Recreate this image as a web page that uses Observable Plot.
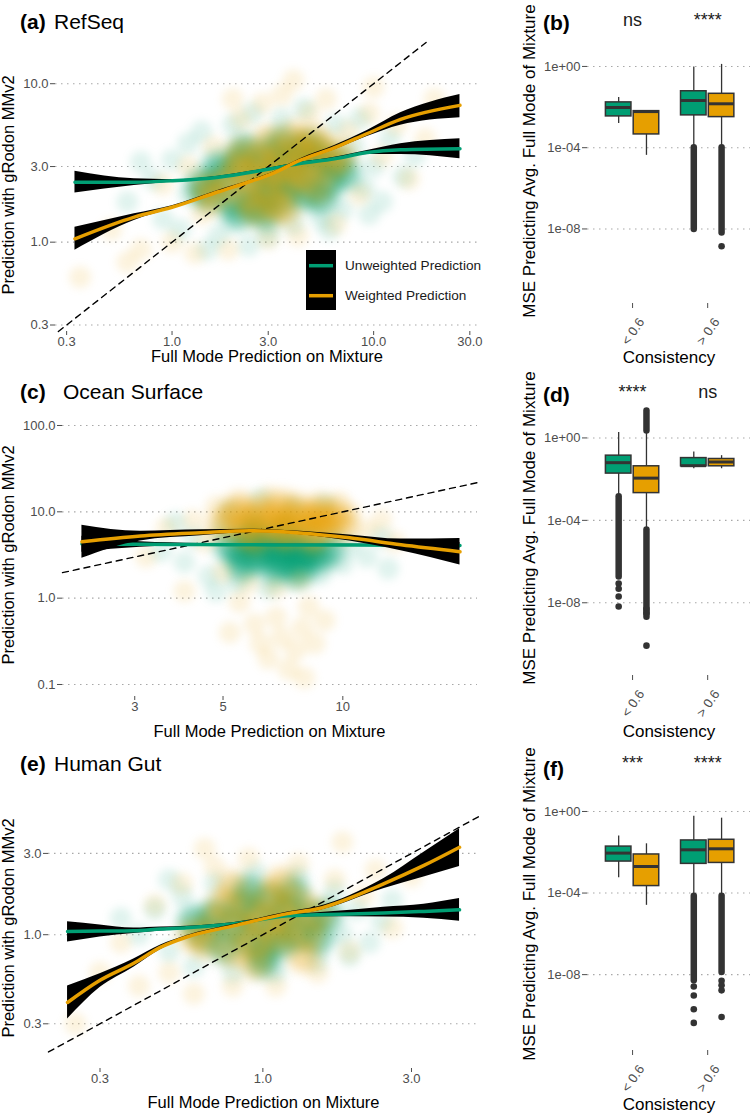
<!DOCTYPE html>
<html><head><meta charset="utf-8">
<script src="https://cdn.jsdelivr.net/npm/d3@7"></script>
<script src="https://cdn.jsdelivr.net/npm/@observablehq/plot@0.6"></script>
<style>
body{margin:0;background:#fff;}
#root{position:relative;width:750px;height:1113px;overflow:hidden;background:#fff;font-family:"Liberation Sans",Arial,sans-serif;}
#root > svg{position:absolute;}
</style></head><body><div id="root"></div>
<script>
const GREEN = "#009E73", ORANGE = "#E69F00";

// ---------- (a) RefSeq ----------
const aX      = [0.33, 0.65, 1.0, 1.7, 2.5, 3.1, 4.3, 6.4, 9.3, 13.6, 26.8];
const aUnwY   = [2.39, 2.39, 2.44, 2.57, 2.77, 2.91, 3.13, 3.36, 3.68, 3.83, 3.89];
const aUnwLo  = [2.04, 2.28, 2.40, 2.53, 2.73, 2.87, 3.08, 3.29, 3.57, 3.58, 3.36];
const aUnwHi  = [2.80, 2.51, 2.48, 2.61, 2.81, 2.95, 3.18, 3.43, 3.79, 4.18, 4.50];
const aWtY    = [1.05, 1.44, 1.66, 2.08, 2.44, 2.69, 3.28, 3.95, 4.85, 5.95, 7.30];
const aWtLo   = [0.89, 1.37, 1.63, 2.03, 2.41, 2.65, 3.21, 3.83, 4.64, 5.47, 6.10];
const aWtHi   = [1.24, 1.51, 1.70, 2.13, 2.48, 2.73, 3.35, 4.07, 5.07, 6.55, 8.56];
const aGreenCore = [[1.5,2.0],[1.8,2.6],[2.0,1.8],[2.2,3.2],[2.5,2.3],[2.6,1.7],[2.8,2.9],[3.0,2.0],[3.1,3.6],[3.3,2.5],[3.6,1.9],[3.8,3.1],[4.0,2.4],[4.3,3.6],[4.6,2.0],[5.0,2.9],[5.4,3.4],[6.0,2.4],[1.4,2.3],[2.3,3.8],[3.5,4.2],[4.8,4.0],[6.5,3.2],[7.2,2.7],[2.1,1.5],[2.9,1.5],[1.7,3.0],[5.5,1.9]];
const aGreenHalo = [[0.6,1.8],[0.8,2.5],[0.9,1.4],[1.0,3.3],[1.1,1.2],[1.2,4.2],[1.4,5.0],[1.7,1.1],[2.0,5.5],[2.5,6.5],[3.0,1.1],[3.5,6.0],[4.0,1.3],[4.5,7.0],[5.5,1.4],[6.5,5.5],[7.0,1.6],[8.0,4.0],[9.0,2.2],[10,3.0],[11,1.8],[12,4.5],[14,2.6],[16,3.5],[0.7,3.2],[1.5,0.9],[2.4,0.95],[8.5,6.0],[1.2,2.0],[6.0,1.2],[9.5,1.5]];
const aOrangeCore = [[1.6,1.9],[1.9,2.4],[2.1,2.9],[2.3,1.9],[2.5,2.6],[2.7,3.3],[2.9,2.2],[3.1,2.8],[3.2,1.7],[3.4,3.4],[3.7,2.3],[3.9,2.9],[4.2,3.9],[4.5,2.6],[4.8,3.3],[5.2,2.2],[5.6,3.9],[6.2,3.0],[2.2,3.6],[3.0,4.3],[4.0,4.6],[1.5,2.2],[2.6,1.6],[5.0,4.4],[6.8,3.5],[3.6,1.6]];
const aOrangeHalo = [[0.5,1.2],[0.7,0.9],[0.9,2.3],[1.0,1.0],[1.2,3.0],[1.3,0.85],[1.6,4.0],[1.9,0.9],[2.2,6.0],[2.8,7.5],[3.5,8.5],[3.0,1.05],[4.2,1.1],[4.8,6.5],[5.8,8.0],[6.5,1.3],[7.5,5.0],[8.5,2.0],[9.5,6.5],[11,3.5],[13,5.5],[15,2.5],[18,4.5],[0.6,0.75],[0.35,0.6],[20,8],[10,9.5],[2.0,8.0],[4.0,10.5],[1.4,1.5]];
const aXTicks = [0.3, 1, 3, 10, 30];
const aYTicks = [0.3, 1, 3, 10];

// ---------- (c) Ocean Surface ----------
const cX      = [2.21, 3.1, 4.39, 5.86, 7.82, 10.4, 14.0, 19.7];
const cUnwY   = [4.25, 4.20, 4.18, 4.15, 4.13, 4.12, 4.10, 4.08];
const cUnwLo  = [3.40, 3.90, 4.05, 4.08, 4.06, 4.03, 3.95, 3.80];
const cUnwHi  = [5.20, 4.50, 4.30, 4.22, 4.20, 4.21, 4.25, 4.40];
const cWtY    = [4.50, 5.24, 5.71, 6.03, 5.70, 5.00, 4.15, 3.45];
const cWtLo   = [2.90, 4.60, 5.27, 5.75, 5.44, 4.60, 3.54, 2.42];
const cWtHi   = [7.00, 5.96, 6.19, 6.30, 5.96, 5.40, 4.83, 4.92];
const cGreenCore = [[5.2,4.0],[5.5,3.2],[5.8,4.8],[6.0,2.8],[6.2,3.8],[6.5,4.5],[6.7,3.0],[7.0,3.6],[7.2,2.5],[7.5,4.2],[7.8,3.2],[8.0,2.7],[8.3,3.8],[8.7,3.0],[6.0,5.5],[7.2,5.2],[5.6,2.4],[6.8,2.2],[7.8,2.1],[9.2,3.5]];
const cGreenHalo = [[3.5,3.5],[4.0,2.6],[4.2,5.0],[4.6,1.8],[5.0,6.5],[5.4,1.5],[6.0,8.5],[6.5,1.3],[7.0,7.0],[7.5,1.6],[8.2,6.0],[8.8,1.9],[9.5,5.0],[10,2.5],[10.5,4.0],[11.5,3.0],[12.5,5.0],[6.2,14],[7.5,11],[5.2,10],[9.0,12],[4.8,1.2],[3.8,7.5],[13,2.2]];
const cOrangeCore = [[5.0,7.0],[5.3,9.0],[5.6,6.0],[5.9,8.2],[6.2,10.0],[6.4,7.2],[6.7,9.0],[7.0,6.2],[7.3,8.0],[7.6,10.5],[7.9,7.0],[8.2,9.0],[8.5,6.5],[8.8,8.2],[9.2,7.2],[9.6,9.0],[10.0,6.8],[6.0,5.0],[7.2,5.5],[8.4,5.0],[5.5,11],[7.0,11.5],[8.8,10.5]];
const cOrangeHalo = [[3.6,6.5],[4.2,8.0],[4.5,4.5],[4.8,11.5],[5.0,2.0],[5.5,0.9],[6.0,0.5],[6.2,0.3],[6.5,0.2],[6.8,0.6],[7.0,0.35],[7.3,0.15],[7.6,0.25],[7.9,0.45],[8.2,0.8],[8.5,0.3],[9.0,0.55],[6.8,1.3],[7.8,1.6],[5.8,1.5],[10.5,9.5],[11.5,6.0],[12.5,8.0],[9.8,13],[4.0,1.2],[6.5,15],[3.2,3.0],[13.5,4.5],[8.0,0.12],[5.2,0.4]];
const cXTicks = [3, 5, 10];
const cYTicks = [0.1, 1, 10, 100];

// ---------- (e) Human Gut ----------
const eX      = [0.236, 0.30, 0.385, 0.47, 0.57, 0.81, 1.2, 1.5, 2.44, 3.29, 4.28];
const eUnwY   = [1.045, 1.05, 1.055, 1.08, 1.10, 1.16, 1.29, 1.31, 1.34, 1.37, 1.40];
const eUnwLo  = [0.905, 0.97, 1.015, 1.05, 1.08, 1.14, 1.265, 1.275, 1.27, 1.25, 1.20];
const eUnwHi  = [1.19, 1.14, 1.095, 1.11, 1.12, 1.18, 1.315, 1.345, 1.45, 1.51, 1.63];
const eWtY    = [0.40, 0.54, 0.68, 0.845, 0.97, 1.13, 1.33, 1.42, 1.99, 2.55, 3.26];
const eWtLo   = [0.32, 0.49, 0.645, 0.82, 0.95, 1.11, 1.30, 1.38, 1.86, 2.18, 2.51];
const eWtHi   = [0.50, 0.59, 0.72, 0.87, 0.99, 1.15, 1.36, 1.46, 2.13, 3.05, 4.19];
const eGreenCore = [[0.65,1.0],[0.7,1.3],[0.75,0.85],[0.8,1.15],[0.85,1.5],[0.9,0.95],[0.95,1.25],[1.0,0.8],[1.05,1.6],[1.1,1.1],[1.15,0.9],[1.2,1.4],[1.3,1.0],[1.4,1.25],[1.5,0.95],[0.6,1.2],[0.9,1.8],[1.25,1.75],[1.0,0.7],[1.6,1.3]];
const eGreenHalo = [[0.4,1.0],[0.45,1.4],[0.5,0.8],[0.55,1.7],[0.6,0.65],[0.7,2.0],[0.8,0.6],[0.95,2.3],[1.1,0.6],[1.3,2.2],[1.5,0.7],[1.7,1.8],[1.8,1.0],[2.0,1.4],[2.2,0.9],[2.4,1.2],[0.35,1.25],[1.9,0.75],[0.5,2.1],[2.6,1.6]];
const eOrangeCore = [[0.65,0.9],[0.7,1.2],[0.75,1.5],[0.8,0.8],[0.85,1.1],[0.9,1.4],[0.95,0.9],[1.0,1.2],[1.05,1.7],[1.1,0.95],[1.15,1.35],[1.2,1.1],[1.3,1.55],[1.4,1.0],[1.5,1.3],[0.6,1.0],[0.8,1.9],[1.15,2.0],[0.95,0.68],[1.35,0.75]];
const eOrangeHalo = [[0.3,0.6],[0.35,0.9],[0.4,0.5],[0.45,1.5],[0.5,0.6],[0.55,2.0],[0.6,0.45],[0.7,2.5],[0.8,0.5],[0.9,2.8],[1.1,0.5],[1.3,2.6],[1.5,0.6],[1.7,2.1],[1.9,0.8],[2.1,1.7],[2.3,2.4],[2.6,1.1],[3.0,2.2],[0.25,0.3],[1.8,3.5],[0.65,3.2]];
const eXTicks = [0.3, 1, 3];
const eYTicks = [0.3, 1, 3];

// ---------- box plots: order [<0.6 Unw, <0.6 Wt, >0.6 Unw, >0.6 Wt] ----------
const consLabels = ["< 0.6", "> 0.6"];
const boxYTicks = [1, 1e-4, 1e-8];

const bHi  = [2.95e-2, 6.3e-3, 0.93, 1.26];
const bQ3  = [1.7e-2, 6.3e-3, 6.0e-2, 4.5e-2];
const bMed = [9.5e-3, 6.0e-3, 2.1e-2, 1.45e-2];
const bQ1  = [3.47e-3, 4.5e-4, 3.9e-3, 3.2e-3];
const bLo  = [1.55e-3, 4.2e-5, 1.1e-4, 1.1e-4];
const bColBox = [2, 3];
const bColTop = [1.0e-4, 1.0e-4];
const bColBot = [9.3e-9, 6.3e-9];
const bDotBox = [3];
const bDotVal = [1.4e-9];
const bSig = ["ns", "****"];

const dHi  = [1.86, 2.1, 0.21, 0.138];
const dQ3  = [0.138, 0.042, 0.105, 0.095];
const dMed = [0.063, 0.0112, 0.045, 0.068];
const dQ1  = [0.0186, 2.1e-3, 0.042, 0.042];
const dLo  = [1.5e-3, 3.4e-5, 0.032, 0.032];
const dColBox = [0, 1, 1];
const dColTop = [1.4e-3, 20, 3.4e-5];
const dColBot = [1.8e-7, 2.2, 2.0e-9];
const dDotBox = [0, 0, 0, 0, 1, 1, 1];
const dDotVal = [8.5e-8, 4.8e-8, 2.0e-8, 6.6e-9, 5.0e-9, 3.2e-9, 8.3e-11];
const dSig = ["****", "ns"];

const fHi  = [0.062, 0.026, 0.59, 0.47];
const fQ3  = [0.019, 7.8e-3, 0.038, 0.041];
const fMed = [9.1e-3, 2.0e-3, 0.0132, 0.0148];
const fQ1  = [3.5e-3, 2.2e-4, 2.7e-3, 3.0e-3];
const fLo  = [5.6e-4, 2.5e-5, 7e-5, 7e-5];
const fColBox = [2, 3];
const fColTop = [7e-5, 7e-5];
const fColBot = [5.0e-9, 1.26e-8];
const fDotBox = [2, 2, 2, 2, 3, 3, 3, 3];
const fDotVal = [2.6e-9, 9.5e-10, 2.0e-10, 4.3e-11, 5e-9, 3.0e-9, 1.7e-9, 8.3e-11];
const fSig = ["***", "****"];

// ---------- helpers ----------
const root = document.getElementById("root");
const FONT = '"Liberation Sans", Arial, sans-serif';
const fmt1 = d3.format(".1f");
const fmtInt = d3.format("d");
const fmtSci = d => { const e = Math.round(Math.log10(d)); return "1e" + (e < 0 ? "-" : "+") + String(Math.abs(e)).padStart(2, "0"); };
const baseStyle = {background: "transparent", overflow: "visible", fontSize: "13px", fontFamily: FONT, color: "#4D4D4D"};
const gridOpts = {stroke: "#a8a8a8", strokeDasharray: "1.5,4.5", strokeWidth: 1.1};

function place(svg, left, top) {
  svg.style.left = left + "px";
  svg.style.top = top + "px";
  svg.style.position = "absolute";
  root.appendChild(svg);
}

function scatterPanel(p) {
  const rows = (ys, los, his) => p.x.map((v, i) => ({x: v, y: ys[i], lo: los[i], hi: his[i]}));
  const unw = rows(p.unw, p.unwLo, p.unwHi);
  const wt = rows(p.wt, p.wtLo, p.wtHi);
  const a = Math.max(p.xDomain[0], p.yDomain[0]), b = Math.min(p.xDomain[1], p.yDomain[1]);
  const ident = [[a, a], [b, b]];
  const px = d => d[0], py = d => d[1];
  const svg = Plot.plot({
    width: p.width, height: p.height,
    marginLeft: p.mL, marginRight: p.mR, marginTop: p.mT, marginBottom: p.mB,
    style: baseStyle,
    x: {type: "log", domain: p.xDomain, ticks: p.xTicks, tickFormat: p.xFmt, tickSize: 4, tickPadding: 1, label: null},
    y: {type: "log", domain: p.yDomain, ticks: p.yTicks, tickFormat: p.yFmt, tickSize: 5, tickPadding: 2, label: null},
    marks: [
      Plot.ruleY(p.yTicks, gridOpts),
      Plot.dot(p.gHalo, {x: px, y: py, r: 11, fill: GREEN, fillOpacity: 0.12}),
      Plot.dot(p.gCore, {x: px, y: py, r: 16, fill: GREEN, fillOpacity: 0.48}),
      Plot.dot(p.oHalo, {x: px, y: py, r: 11, fill: ORANGE, fillOpacity: 0.13}),
      Plot.dot(p.oCore, {x: px, y: py, r: 16, fill: ORANGE, fillOpacity: 0.36}),
      Plot.line(ident, {x: px, y: py, stroke: "#000", strokeWidth: 1.4, strokeDasharray: "6,5"}),
      Plot.areaY(unw, {x: "x", y1: "lo", y2: "hi", fill: "#000", curve: "monotone-x"}),
      Plot.line(unw, {x: "x", y: "y", stroke: GREEN, strokeWidth: 3.5, curve: "monotone-x"}),
      Plot.areaY(wt, {x: "x", y1: "lo", y2: "hi", fill: "#000", curve: "monotone-x"}),
      Plot.line(wt, {x: "x", y: "y", stroke: ORANGE, strokeWidth: 3.5, curve: "monotone-x"})
    ]
  });
  // soften the scatter cloud like many overlapping translucent points
  svg.querySelectorAll('g[aria-label="dot"]').forEach((g, k) => { g.style.filter = k % 2 ? "blur(6px)" : "blur(4px)"; });
  place(svg, p.left, p.top);
}

function boxPanel(p) {
  const off = 0.185, half = 0.17;
  const pos = i => Math.floor(i / 2) + 1 + (i % 2 ? off : -off);
  const fillOf = i => (i % 2 ? ORANGE : GREEN);
  const rows = p.lo.map((_, i) => ({i, lo: p.lo[i], q1: p.q1[i], med: p.med[i], q3: p.q3[i], hi: p.hi[i]}));
  const cols = p.colBox.map((b, k) => ({i: b, top: p.colTop[k], bot: p.colBot[k]}));
  const dots = p.dotBox.map((b, k) => ({i: b, v: p.dotVal[k]}));
  const svg = Plot.plot({
    width: p.width, height: p.height,
    marginLeft: p.mL, marginRight: p.mR, marginTop: p.mT, marginBottom: p.mB,
    style: baseStyle,
    x: {type: "linear", domain: [0.4, 2.57], ticks: [1, 2], tickFormat: () => "", tickSize: 5, label: null},
    y: {type: "log", domain: p.yDomain, ticks: boxYTicks, tickFormat: fmtSci, tickSize: 5, tickPadding: 2, label: null},
    color: {type: "identity"},
    marks: [
      Plot.ruleY(boxYTicks, gridOpts),
      Plot.ruleX(cols, {x: d => pos(d.i), y1: "top", y2: "bot", stroke: "#333", strokeWidth: 6.5, strokeLinecap: "round"}),
      Plot.dot(dots, {x: d => pos(d.i), y: "v", r: 3.3, fill: "#333"}),
      Plot.ruleX(rows, {x: d => pos(d.i), y1: "lo", y2: "hi", stroke: "#333", strokeWidth: 1.3}),
      Plot.rect(rows, {x1: d => pos(d.i) - half, x2: d => pos(d.i) + half, y1: "q1", y2: "q3", fill: d => fillOf(d.i), stroke: "#333", strokeWidth: 1.5}),
      Plot.ruleY(rows, {y: "med", x1: d => pos(d.i) - half, x2: d => pos(d.i) + half, stroke: "#333", strokeWidth: 3}),
      Plot.text(p.sig, {x: (d, i) => i + 1, y: () => p.sigY, text: d => d, fontSize: 18, fill: "#1a1a1a"}),
      Plot.text(consLabels, {x: (d, i) => i + 1, frameAnchor: "bottom", text: d => d, rotate: -55,
        textAnchor: "end", lineAnchor: "middle", dx: 9, dy: 16, fontSize: 13, fill: "#4D4D4D"})
    ]
  });
  place(svg, p.left, p.top);
}

// ---------- panels ----------
scatterPanel({left: 0, top: 0, width: 500, height: 352, mL: 55, mR: 21, mT: 42, mB: 21,
  xDomain: [0.2642, 33.5], yDomain: [0.273, 18.2], xTicks: aXTicks, yTicks: aYTicks, xFmt: fmt1, yFmt: fmt1,
  x: aX, unw: aUnwY, unwLo: aUnwLo, unwHi: aUnwHi, wt: aWtY, wtLo: aWtLo, wtHi: aWtHi,
  gHalo: aGreenHalo, gCore: aGreenCore, oHalo: aOrangeHalo, oCore: aOrangeCore});

scatterPanel({left: 0, top: 380, width: 500, height: 340, mL: 62, mR: 23, mT: 38, mB: 24,
  xDomain: [1.975, 21.8], yDomain: [0.0726, 120.5], xTicks: cXTicks, yTicks: cYTicks, xFmt: fmtInt, yFmt: fmt1,
  x: cX, unw: cUnwY, unwLo: cUnwLo, unwHi: cUnwHi, wt: cWtY, wtLo: cWtLo, wtHi: cWtHi,
  gHalo: cGreenHalo, gCore: cGreenCore, oHalo: cOrangeHalo, oCore: cOrangeCore});

scatterPanel({left: 0, top: 780, width: 500, height: 310, mL: 48, mR: 21, mT: 10, mB: 22,
  xDomain: [0.205, 4.96], yDomain: [0.164, 7.02], xTicks: eXTicks, yTicks: eYTicks, xFmt: fmt1, yFmt: fmt1,
  x: eX, unw: eUnwY, unwLo: eUnwLo, unwHi: eUnwHi, wt: eWtY, wtLo: eWtLo, wtHi: eWtHi,
  gHalo: eGreenHalo, gCore: eGreenCore, oHalo: eOrangeHalo, oCore: eOrangeCore});

boxPanel({left: 500, top: 0, width: 250, height: 345, mL: 87, mR: 0, mT: 5, mB: 42,
  yDomain: [Math.pow(10, -11.67), Math.pow(10, 3.0)], sigY: Math.pow(10, 2.256),
  lo: bLo, q1: bQ1, med: bMed, q3: bQ3, hi: bHi, colBox: bColBox, colTop: bColTop, colBot: bColBot,
  dotBox: bDotBox, dotVal: bDotVal, sig: bSig});

boxPanel({left: 500, top: 370, width: 250, height: 345, mL: 87, mR: 0, mT: 5, mB: 40,
  yDomain: [Math.pow(10, -11.53), Math.pow(10, 3.03)], sigY: Math.pow(10, 2.22),
  lo: dLo, q1: dQ1, med: dMed, q3: dQ3, hi: dHi, colBox: dColBox, colTop: dColTop, colBot: dColBot,
  dotBox: dDotBox, dotVal: dDotVal, sig: dSig});

boxPanel({left: 500, top: 745, width: 250, height: 345, mL: 87, mR: 0, mT: 5, mB: 40,
  yDomain: [Math.pow(10, -11.72), Math.pow(10, 2.99)], sigY: Math.pow(10, 2.35),
  lo: fLo, q1: fQ1, med: fMed, q3: fQ3, hi: fHi, colBox: fColBox, colTop: fColTop, colBot: fColBot,
  dotBox: fDotBox, dotVal: fDotVal, sig: fSig});

// ---------- titles, axis titles, legend ----------
const yTitleL = "Prediction with gRodon MMv2";
const xTitleL = "Full Mode Prediction on Mixture";
const yTitleR = "MSE Predicting Avg. Full Mode of Mixture";
const xTitleR = "Consistency";
const ns = "http://www.w3.org/2000/svg";
const ov = document.createElementNS(ns, "svg");
ov.setAttribute("width", 750); ov.setAttribute("height", 1113);
ov.style.left = "0px"; ov.style.top = "0px"; ov.style.position = "absolute";
ov.setAttribute("font-family", FONT);
const T = (x, y, s, o = {}) => `<text x="${x}" y="${y}" font-size="${o.size || 16.5}" ${o.bold ? 'font-weight="bold"' : ""} text-anchor="${o.anchor || "start"}" fill="${o.fill || "#000"}" ${o.tr ? `transform="${o.tr}"` : ""}>${s}</text>`;
const esc = s => s.replace(/&/g, "&amp;").replace(/</g, "&lt;").replace(/>/g, "&gt;");
let h = "";
h += T(20, 29, "(a)", {size: 21, bold: true}) + T(54, 29, "RefSeq", {size: 21});
h += T(20, 399, "(c)", {size: 21, bold: true}) + T(63, 399, "Ocean Surface", {size: 21});
h += T(20, 770.5, "(e)", {size: 21, bold: true}) + T(54, 770.5, "Human Gut", {size: 21});
h += T(543, 30, "(b)", {size: 21, bold: true});
h += T(543, 402, "(d)", {size: 21, bold: true});
h += T(543, 776, "(f)", {size: 21, bold: true});
h += T(267, 362, xTitleL, {anchor: "middle"});
h += T(269.5, 737, xTitleL, {anchor: "middle"});
h += T(263.5, 1108, xTitleL, {anchor: "middle"});
h += T(0, 0, yTitleL, {anchor: "middle", tr: "translate(13.5,185) rotate(-90)"});
h += T(0, 0, yTitleL, {anchor: "middle", tr: "translate(13.5,555) rotate(-90)"});
h += T(0, 0, yTitleL, {anchor: "middle", tr: "translate(13.5,928) rotate(-90)"});
h += T(669, 363.3, xTitleR, {anchor: "middle", size: 17});
h += T(669, 736.7, xTitleR, {anchor: "middle", size: 17});
h += T(669, 1110, xTitleR, {anchor: "middle", size: 17});
h += T(0, 0, yTitleR, {anchor: "middle", size: 17, tr: "translate(534.5,161) rotate(-90)"});
h += T(0, 0, yTitleR, {anchor: "middle", size: 17, tr: "translate(534.5,528) rotate(-90)"});
h += T(0, 0, yTitleR, {anchor: "middle", size: 17, tr: "translate(534.5,904) rotate(-90)"});
const legendLabels = ["Unweighted Prediction", "Weighted Prediction"];
const legendColors = [GREEN, ORANGE];
h += `<rect x="306" y="250" width="30" height="60" fill="#000"/>`;
legendLabels.forEach((lab, i) => {
  const cy = 265.7 + i * 30;
  h += `<line x1="309" x2="333" y1="${cy}" y2="${cy}" stroke="${legendColors[i]}" stroke-width="3.5"/>`;
  h += T(345, cy + 4.7, esc(lab), {size: 13.6, fill: "#1a1a1a"});
});
ov.innerHTML = h;
root.appendChild(ov);
</script></body></html>
